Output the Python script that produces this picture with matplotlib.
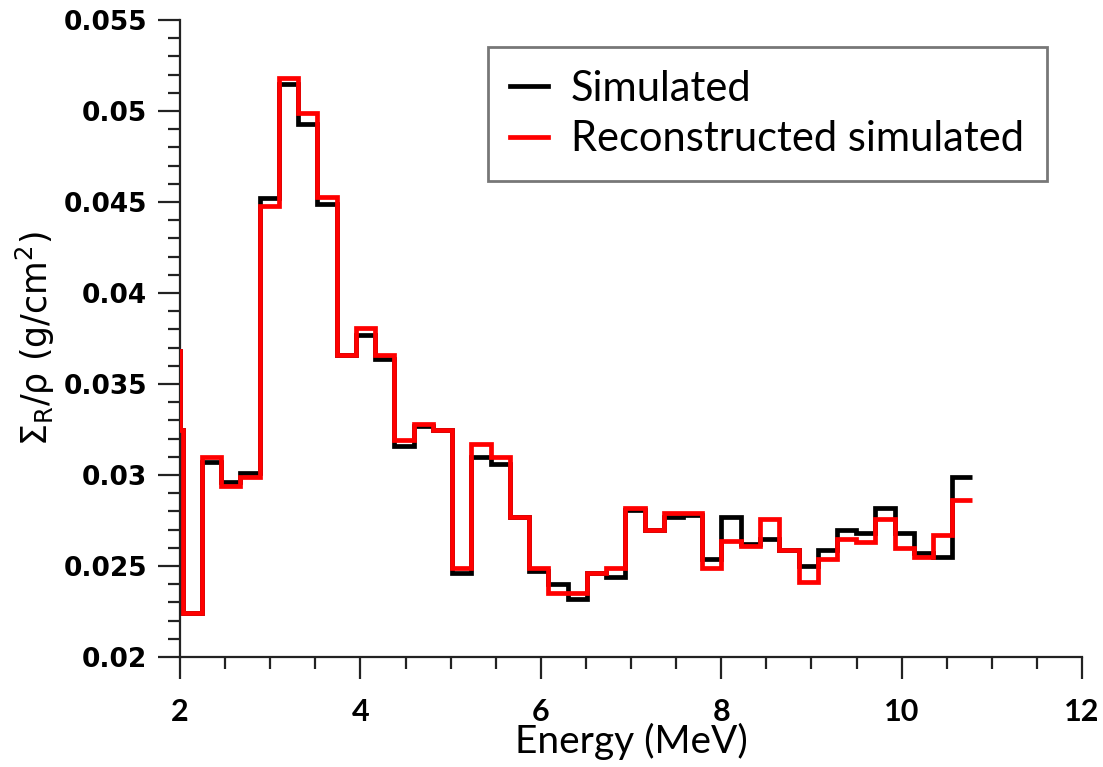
import matplotlib
matplotlib.use("Agg")
import matplotlib.pyplot as plt
from matplotlib.ticker import MultipleLocator, FuncFormatter

# Bin edges (MeV)
edges = [1.90, 2.00, 2.03, 2.243, 2.457, 2.670, 2.883, 3.097, 3.310, 3.523,
         3.737, 3.950, 4.163, 4.377, 4.590, 4.803, 5.017, 5.230, 5.443,
         5.657, 5.870, 6.083, 6.297, 6.510, 6.723, 6.937, 7.150, 7.363,
         7.577, 7.790, 8.003, 8.217, 8.430, 8.643, 8.857, 9.070, 9.283,
         9.497, 9.710, 9.923, 10.137, 10.350, 10.563, 10.777]

simulated = [0.0368, 0.0325, 0.0224, 0.0307, 0.0296, 0.0301, 0.0452, 0.0515,
             0.0493, 0.0449, 0.0366, 0.0377, 0.0364, 0.0316, 0.0327, 0.03245,
             0.0246, 0.0310, 0.0306, 0.0277, 0.0247, 0.0240, 0.0232, 0.0246,
             0.0244, 0.0281, 0.0270, 0.0277, 0.0278, 0.0254, 0.0277, 0.0262,
             0.0265, 0.0259, 0.0250, 0.0259, 0.0270, 0.0268, 0.0282, 0.0268,
             0.0257, 0.0255, 0.0299]

reconstructed = [0.0368, 0.0325, 0.0224, 0.0310, 0.0294, 0.0299, 0.0448, 0.0518,
                 0.0499, 0.0453, 0.0366, 0.0381, 0.0366, 0.0319, 0.0328, 0.03245,
                 0.0249, 0.0317, 0.0310, 0.0277, 0.0249, 0.0235, 0.0235, 0.0246,
                 0.0249, 0.0282, 0.0270, 0.0279, 0.0279, 0.0249, 0.0264, 0.0261,
                 0.0276, 0.0259, 0.0241, 0.0254, 0.0265, 0.0263, 0.0276, 0.0260,
                 0.0255, 0.0267, 0.0286]

labels = ["Simulated", "Reconstructed simulated"]
xlabel = "Energy (MeV)"
ylabel = "Σ$_\\mathregular{R}$/ρ (g/cm$^\\mathregular{2}$)"

fig = plt.figure(figsize=(11.03, 7.67), dpi=100)
ax = fig.add_axes([180/1103, 1-657/767, (1082-180)/1103, (657-20)/767])

ax.stairs(simulated, edges, baseline=None, color="black", linewidth=3.4,
          label=labels[0], zorder=2)
ax.stairs(reconstructed, edges, baseline=None, color="#ff0000", linewidth=3.4,
          label=labels[1], zorder=3)

ax.set_xlim(2, 12)
ax.set_ylim(0.02, 0.055)

for s in ["top", "right"]:
    ax.spines[s].set_visible(False)
for s in ["left", "bottom"]:
    ax.spines[s].set_linewidth(1.6)
    ax.spines[s].set_color("#222222")

ax.xaxis.set_major_locator(MultipleLocator(2))
ax.xaxis.set_minor_locator(MultipleLocator(0.5))
ax.yaxis.set_major_locator(MultipleLocator(0.005))
ax.yaxis.set_minor_locator(MultipleLocator(0.001))
ax.yaxis.set_major_formatter(FuncFormatter(lambda v, p: f"{v:g}"))
ax.xaxis.set_major_formatter(FuncFormatter(lambda v, p: f"{v:g}"))

ax.tick_params(which="major", direction="out", length=15.5, width=1.6, color="#222222")
ax.tick_params(which="minor", direction="out", length=8.5, width=1.6, color="#222222")
ax.tick_params(axis="y", which="major", pad=8, labelsize=19)
ax.tick_params(axis="x", which="major", pad=14, labelsize=22)
for t in ax.get_yticklabels():
    t.set_fontfamily("DejaVu Sans")
    t.set_fontweight("bold")
for t in ax.get_xticklabels():
    t.set_fontfamily("Lato")
    t.set_fontweight("bold")

ax.set_xlabel(xlabel, fontfamily="Lato", fontsize=28, labelpad=-2)
ax.set_ylabel(ylabel, fontfamily="DejaVu Sans", fontsize=25, labelpad=5)

leg = ax.legend(loc="upper right", bbox_to_anchor=(0.961, 0.958),
                borderaxespad=0, frameon=True, fancybox=False,
                prop={"family": "Lato", "size": 30},
                handlelength=0.9, handletextpad=0.55, borderpad=0.55,
                labelspacing=0.3)
leg.get_frame().set_edgecolor("#555555")
leg.get_frame().set_linewidth(2)
for line in leg.get_lines():
    line.set_linewidth(3.4)

fig.savefig("out.png", dpi=100)
